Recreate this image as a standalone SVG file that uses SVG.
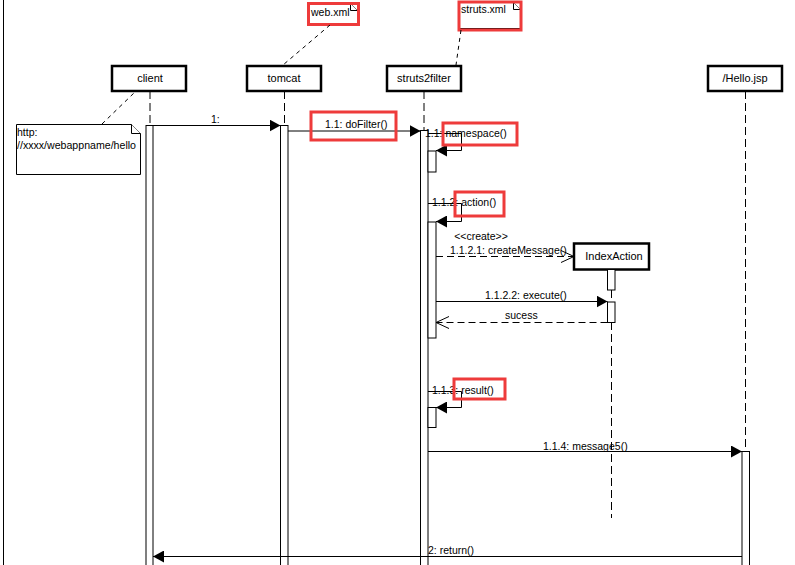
<svg xmlns="http://www.w3.org/2000/svg" width="795" height="565" viewBox="0 0 795 565">
<defs>
<style>
text{font-family:"Liberation Sans",Arial,sans-serif;font-size:10.5px;fill:#000}
text.name{font-size:11px}
.obj{fill:#fff;stroke:#000;stroke-width:2.5}
.life{stroke:#000;stroke-width:1;stroke-dasharray:8,4;fill:none}
.act{fill:#fff;stroke:#000;stroke-width:1}
.msg{stroke:#000;stroke-width:1;fill:none}
.ret{stroke:#000;stroke-width:1;fill:none;stroke-dasharray:7,4}
.anchor{stroke:#000;stroke-width:1;fill:none;stroke-dasharray:4,4}
.note{fill:#fff;stroke:#000;stroke-width:1}
.hl{fill:none;stroke:#ee3b3b;stroke-width:3}
</style>
<marker id="fill" markerWidth="12" markerHeight="12" refX="11" refY="6" orient="auto" markerUnits="userSpaceOnUse">
<path d="M0,0 L11,6 L0,12 Z" fill="#000"/>
</marker>
<marker id="open" markerWidth="14" markerHeight="14" refX="13" refY="7" orient="auto" markerUnits="userSpaceOnUse">
<path d="M0,1 L13,7 L0,13" fill="none" stroke="#000" stroke-width="1"/>
</marker>
</defs>
<rect width="795" height="565" fill="#fff"/>
<line x1="3.5" y1="0" x2="3.5" y2="565" stroke="#000" stroke-width="1"/>

<g id="lifelines">
<line class="life" x1="150" y1="91" x2="150" y2="125"/>
<line class="life" x1="284.5" y1="91" x2="284.5" y2="125"/>
<line class="life" x1="424" y1="91" x2="424" y2="130"/>
<line class="life" x1="611.5" y1="290" x2="611.5" y2="302"/>
<line class="life" x1="611.5" y1="322" x2="611.5" y2="518"/>
<line class="life" x1="745.5" y1="91" x2="745.5" y2="451"/>
</g>

<g id="client">
<rect class="obj" x="112" y="66" width="74" height="25"/>
<text class="name" x="150" y="82" text-anchor="middle">client</text>
<rect class="act" x="146" y="125.5" width="7" height="445"/>
</g>
<g id="tomcat">
<rect class="obj" x="247" y="66" width="74" height="25"/>
<text class="name" x="284" y="82" text-anchor="middle">tomcat</text>
<rect class="act" x="280.5" y="125.5" width="7.5" height="445"/>
</g>
<g id="struts2filter">
<rect class="obj" x="387" y="66" width="74" height="25"/>
<text class="name" x="424" y="82" text-anchor="middle">struts2filter</text>
<rect class="act" x="420.5" y="130.5" width="7.5" height="440"/>
<rect class="act" x="428" y="151" width="8" height="21"/>
<rect class="act" x="428" y="222" width="8" height="116"/>
<rect class="act" x="428" y="407.5" width="8" height="20"/>
</g>
<g id="indexaction">
<rect class="obj" x="574" y="243.5" width="75" height="26"/>
<text class="name" x="614" y="260" text-anchor="middle">IndexAction</text>
<rect class="act" x="607.5" y="269.5" width="7.5" height="20.5"/>
<rect class="act" x="607.5" y="302" width="7.5" height="20.5"/>
</g>
<g id="hellojsp">
<rect class="obj" x="708" y="66" width="74" height="25"/>
<text class="name" x="745" y="82" text-anchor="middle">/Hello.jsp</text>
<rect class="act" x="742" y="451.5" width="7.5" height="120"/>
</g>

<g id="note-url">
<path class="note" d="M16.5,124.5 H131.5 L140.5,133.5 V174.5 H16.5 Z"/>
<path class="note" d="M131.5,124.5 V133.5 H140.5"/>
<text x="17" y="136">http:</text>
<text x="17" y="149" textLength="119" lengthAdjust="spacingAndGlyphs">//xxxx/webappname/hello</text>
</g>
<g id="note-webxml">
<path class="note" d="M309.5,3.5 H350.5 L357.5,10.5 V23.5 H309.5 Z"/>
<path class="note" d="M350.5,3.5 V10.5 H357.5"/>
<text x="311" y="16">web.xml</text>
<rect class="hl" x="308.5" y="3.5" width="50" height="21"/>
</g>
<g id="note-strutsxml">
<path class="note" d="M459.5,2.5 H513.5 L520.5,9.5 V28.5 H459.5 Z"/>
<path class="note" d="M513.5,2.5 V9.5 H520.5"/>
<text x="461" y="13">struts.xml</text>
<rect class="hl" x="459" y="2" width="62" height="28"/>
</g>

<g id="connectors">
<line class="anchor" x1="102" y1="124" x2="135" y2="92"/>
<line class="anchor" x1="330" y1="25" x2="283" y2="65"/>
<line class="anchor" x1="461" y1="30" x2="456" y2="65"/>

<line class="msg" x1="153" y1="125.5" x2="280.5" y2="125.5" marker-end="url(#fill)"/>
<text x="211" y="123">1:</text>

<line class="msg" x1="288" y1="131" x2="420.5" y2="131" marker-end="url(#fill)"/>
<text x="325" y="128">1.1: doFilter()</text>

<path class="msg" d="M428,133.5 H461.5 V150.5 H436" marker-end="url(#fill)"/>
<text x="425" y="137">1.1: namespace()</text>

<path class="msg" d="M428,203.5 H461.5 V221.5 H436" marker-end="url(#fill)"/>
<text x="432" y="206">1.1.2: action()</text>

<line class="ret" x1="436" y1="256.5" x2="574" y2="256.5" marker-end="url(#open)"/>
<text x="481" y="240" text-anchor="middle">&lt;&lt;create&gt;&gt;</text>
<text x="450" y="254">1.1.2.1: createMessage()</text>

<line class="msg" x1="436" y1="301.5" x2="607.5" y2="301.5" marker-end="url(#fill)"/>
<text x="485" y="299">1.1.2.2: execute()</text>

<line class="ret" x1="607.5" y1="322.5" x2="436" y2="322.5" marker-end="url(#open)"/>
<text x="505" y="319">sucess</text>

<path class="msg" d="M428,391.5 H461.5 V407.5 H436" marker-end="url(#fill)"/>
<text x="432" y="394">1.1.3: result()</text>

<line class="msg" x1="428" y1="451.5" x2="742" y2="451.5" marker-end="url(#fill)"/>
<text x="543" y="450">1.1.4: message5()</text>

<line class="msg" x1="742" y1="556.5" x2="153" y2="556.5" marker-end="url(#fill)"/>
<text x="428" y="554">2: return()</text>
</g>

<g id="highlights">
<rect class="hl" x="311" y="112" width="85" height="28"/>
<rect class="hl" x="443" y="123" width="74" height="22"/>
<rect class="hl" x="455" y="192" width="49" height="24"/>
<rect class="hl" x="454" y="379" width="51" height="20"/>
</g>
</svg>
